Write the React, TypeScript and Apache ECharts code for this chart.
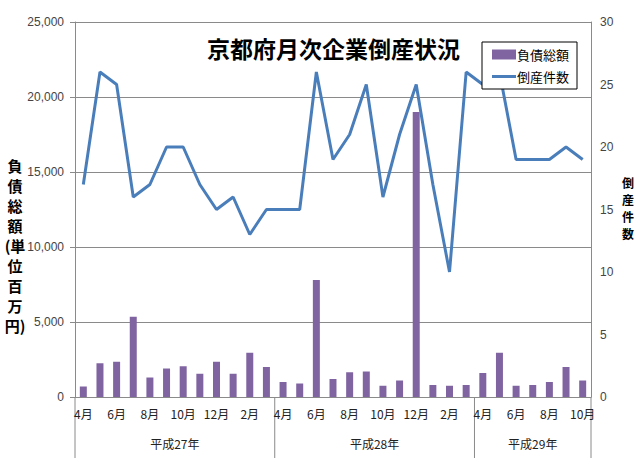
import React, { useEffect, useRef } from "react";
import * as echarts from "echarts";

const months = [
  "4月", "5月", "6月", "7月", "8月", "9月", "10月", "11月", "12月", "1月", "2月", "3月",
  "4月", "5月", "6月", "7月", "8月", "9月", "10月", "11月", "12月", "1月", "2月", "3月",
  "4月", "5月", "6月", "7月", "8月", "9月", "10月",
];
const groupLabels = ["平成27年", "平成28年", "平成29年"];
const groupSizes = [12, 12, 7];
const debtTotal = [
  700, 2250, 2350, 5350, 1300, 1900, 2050, 1550, 2350, 1550, 2950, 2000,
  1000, 900, 7800, 1200, 1650, 1700, 750, 1100, 19000, 800, 750, 800,
  1600, 2950, 750, 800, 1000, 2000, 1100,
];
const bankruptcies = [
  17, 26, 25, 16, 17, 20, 20, 17, 15, 16, 13, 15,
  15, 15, 26, 19, 21, 25, 16, 21, 25, 17, 10, 26,
  25, 26, 19, 19, 19, 20, 19,
];
const leftTicks = [0, 5000, 10000, 15000, 20000, 25000];
const rightTicks = [0, 5, 10, 15, 20, 25, 30];
const titleText = "京都府月次企業倒産状況";
const leftName = ["負", "債", "総", "額", "(単", "位", "百", "万", "円)"];
const rightName = ["倒", "産", "件", "数"];

const CJK = '"Noto Sans CJK JP", "Noto Sans", sans-serif';
const NUM = '"Liberation Sans", Arial, sans-serif';
const GRID = "#8a8a8a";

export default function App() {
  const ref = useRef<HTMLDivElement>(null);
  useEffect(() => {
    document.body.style.margin = "0";
    const chart = echarts.init(ref.current!, null, { renderer: "svg" });
    chart.setOption({
      animation: false,
      backgroundColor: "#ffffff",
      title: {
        text: titleText,
        left: 207,
        top: 36,
        padding: 0,
        textStyle: { fontFamily: CJK, fontSize: 23, fontWeight: "bold", color: "#000" },
      },
      legend: {
        orient: "vertical",
        left: 482,
        top: 42,
        width: 97,
        padding: [6, 8, 6, 10],
        itemGap: 9,
        itemWidth: 24,
        itemHeight: 10,
        borderColor: "#000",
        borderWidth: 1,
        backgroundColor: "#fff",
        textStyle: { fontFamily: CJK, fontSize: 13, color: "#000", padding: [0, 0, 0, -4] },
        data: [
          { name: "負債総額", icon: "rect" },
          { name: "倒産件数", icon: "path://M0 0H24V3H0Z" },
        ],
      },
      grid: { left: 75, right: 49, top: 22, bottom: 68, containLabel: false },
      xAxis: {
        type: "category",
        data: months,
        axisLine: { lineStyle: { color: GRID } },
        axisTick: { show: false },
        axisLabel: { interval: 1, margin: 10, fontFamily: CJK, fontSize: 12, color: "#222" },
      },
      yAxis: [
        {
          type: "value",
          min: leftTicks[0],
          max: leftTicks[leftTicks.length - 1],
          interval: leftTicks[1] - leftTicks[0],
          axisLine: { show: true, lineStyle: { color: GRID } },
          axisTick: { show: true, length: 5, lineStyle: { color: GRID } },
          splitLine: { lineStyle: { color: GRID } },
          axisLabel: {
            margin: 11,
            fontFamily: NUM,
            fontSize: 12,
            color: "#444",
            formatter: (v: number) => v.toLocaleString("en-US"),
          },
        },
        {
          type: "value",
          min: rightTicks[0],
          max: rightTicks[rightTicks.length - 1],
          interval: rightTicks[1] - rightTicks[0],
          axisLine: { show: true, lineStyle: { color: GRID } },
          axisTick: { show: false },
          splitLine: { show: false },
          axisLabel: { margin: 9, fontFamily: NUM, fontSize: 12, color: "#444" },
        },
      ],
      series: [
        {
          name: "負債総額",
          type: "bar",
          yAxisIndex: 0,
          data: debtTotal,
          barWidth: 7,
          itemStyle: { color: "#8064A2" },
        },
        {
          name: "倒産件数",
          type: "line",
          yAxisIndex: 1,
          data: bankruptcies,
          symbol: "none",
          lineStyle: { color: "#4A7EBB", width: 3 },
          itemStyle: { color: "#4A7EBB" },
        },
      ],
    });

    const c0 = chart.convertToPixel({ xAxisIndex: 0 }, 0) as number;
    const c1 = chart.convertToPixel({ xAxisIndex: 0 }, 1) as number;
    const band = c1 - c0;
    const yBottom = chart.convertToPixel({ yAxisIndex: 0 }, 0) as number;
    const yTop = chart.convertToPixel({ yAxisIndex: 0 }, leftTicks[leftTicks.length - 1]) as number;
    const graphics: any[] = [];
    let start = 0;
    const bounds: number[] = [c0 - band / 2];
    groupSizes.forEach((size, gi) => {
      const left = c0 + (start - 0.5) * band;
      const right = c0 + (start + size - 0.5) * band;
      bounds.push(right);
      graphics.push({
        type: "text",
        x: (left + right) / 2,
        y: yBottom + 46,
        style: {
          text: groupLabels[gi],
          fontFamily: CJK,
          fontSize: 12,
          fill: "#222",
          textAlign: "center",
          textVerticalAlign: "middle",
        },
      });
      start += size;
    });
    bounds.forEach((bx) => {
      graphics.push({
        type: "line",
        shape: { x1: bx, y1: yBottom, x2: bx, y2: yBottom + 61 },
        style: { stroke: GRID, lineWidth: 1 },
      });
    });
    const midY = (yTop + yBottom) / 2;
    graphics.push({
      type: "text",
      x: 15,
      y: midY + 36,
      style: {
        text: leftName.join("\n"),
        fontFamily: CJK,
        fontSize: 15,
        fontWeight: "bold",
        lineHeight: 20,
        fill: "#000",
        textAlign: "center",
        textVerticalAlign: "middle",
      },
    });
    graphics.push({
      type: "text",
      x: 628,
      y: midY - 2,
      style: {
        text: rightName.join("\n"),
        fontFamily: CJK,
        fontSize: 12,
        fontWeight: "bold",
        lineHeight: 17,
        fill: "#000",
        textAlign: "center",
        textVerticalAlign: "middle",
      },
    });
    chart.setOption({ graphic: graphics });

    return () => chart.dispose();
  }, []);
  return <div ref={ref} style={{ width: 640, height: 465 }} />;
}
